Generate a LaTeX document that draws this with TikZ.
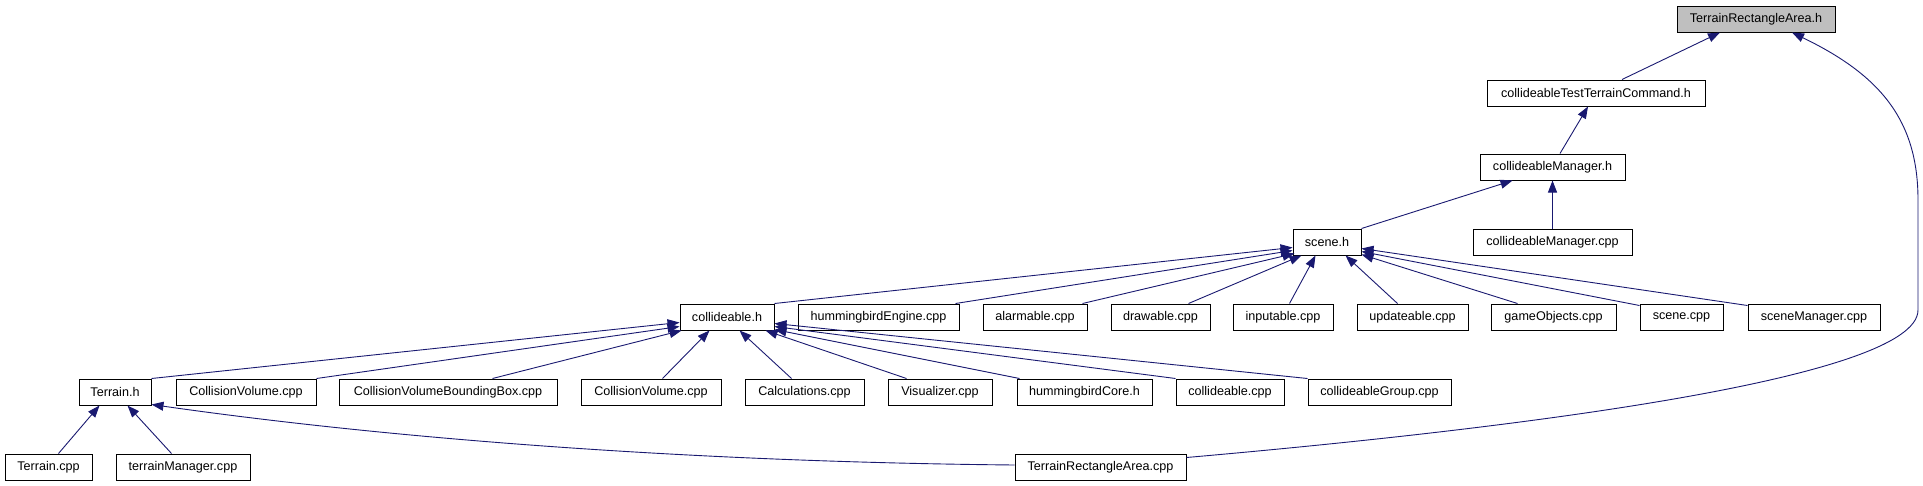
\documentclass[tikz,border=0pt]{standalone}
\usepackage{fontspec}
\setmainfont{Liberation Sans}
\usetikzlibrary{arrows.meta}
\definecolor{edgeblue}{HTML}{191970}
\definecolor{rootgray}{HTML}{BFBFBF}
\tikzset{
  box/.style={draw=black, line width=1pt, fill=white, inner sep=0pt, minimum height=26pt,
    font=\fontsize{12.6}{14}\selectfont, anchor=center},
  rootbox/.style={box, fill=rootgray},
  edge/.style={draw=edgeblue, line width=0.9pt, {Triangle[length=12pt,width=9pt]}-}
}
\begin{document}
\begin{tikzpicture}[x=1pt,y=-1pt]
\useasboundingbox (0,0) rectangle (1923,485);
% row 1-4
\node[rootbox, minimum width=158pt] (TRAh) at (1756,19) {TerrainRectangleArea.h};
\node[box, minimum width=218pt] (cTTC) at (1596,93) {collideableTestTerrainCommand.h};
\node[box, minimum width=145pt] (cMh) at (1552.5,167) {collideableManager.h};
\node[box, minimum width=159pt] (cMcpp) at (1552.5,242) {collideableManager.cpp};
\node[box, minimum width=68pt] (sceneh) at (1327,242) {scene.h};
% row 5
\node[box, minimum width=94pt] (collh) at (727,317) {collideable.h};
\node[box, minimum width=161pt] (hbE) at (878.5,317) {hummingbirdEngine.cpp};
\node[box, minimum width=104pt] (alarm) at (1035,317) {alarmable.cpp};
\node[box, minimum width=99pt] (draw) at (1160.5,317) {drawable.cpp};
\node[box, minimum width=100pt] (input) at (1283,317) {inputable.cpp};
\node[box, minimum width=111pt] (update) at (1412.5,317) {updateable.cpp};
\node[box, minimum width=125pt] (gameO) at (1553.5,317) {gameObjects.cpp};
\node[box, minimum width=83pt] (scenecpp) at (1681.5,317) {scene.cpp};
\node[box, minimum width=132pt] (sceneM) at (1814,317) {sceneManager.cpp};
% row 6
\node[box, minimum width=72pt] (Terrh) at (115,392) {Terrain.h};
\node[box, minimum width=140pt] (CVa) at (246,392) {CollisionVolume.cpp};
\node[box, minimum width=218pt] (CVBB) at (448,392) {CollisionVolumeBoundingBox.cpp};
\node[box, minimum width=140pt] (CVb) at (651,392) {CollisionVolume.cpp};
\node[box, minimum width=119pt] (Calc) at (804.5,392) {Calculations.cpp};
\node[box, minimum width=104pt] (Vis) at (940,392) {Visualizer.cpp};
\node[box, minimum width=135pt] (hbCore) at (1084.5,392) {hummingbirdCore.h};
\node[box, minimum width=108pt] (collcpp) at (1230,392) {collideable.cpp};
\node[box, minimum width=143pt] (collGroup) at (1379.5,392) {collideableGroup.cpp};
% row 7
\node[box, minimum width=87pt] (Tcpp) at (48.5,467) {Terrain.cpp};
\node[box, minimum width=134pt] (tMgr) at (183,467) {terrainManager.cpp};
\node[box, minimum width=171pt] (TRAcpp) at (1100.5,467) {TerrainRectangleArea.cpp};

% edges to TerrainRectangleArea.h
\draw[edge] ([xshift=-36pt]TRAh.south) -- ([xshift=26pt]cTTC.north);
\draw[edge] ([xshift=36pt]TRAh.south) .. controls (1880,75) and (1918,120) .. (1918,200)
  -- (1918,310) .. controls (1918,380) and (1500,430) .. ([yshift=-4pt]TRAcpp.north east);
% to collideableTestTerrainCommand.h
\draw[edge] ([xshift=-8pt]cTTC.south) -- ([xshift=7.5pt]cMh.north);
% to collideableManager.h
\draw[edge] ([xshift=33pt]cMh.south west) -- (sceneh.north east);
\draw[edge] (cMh.south) -- (cMcpp.north);
% to scene.h
\draw[edge] ([yshift=8pt]sceneh.south west) -- (collh.north east);
\draw[edge] ([yshift=5pt]sceneh.south west) -- ([xshift=-4pt]hbE.north east);
\draw[edge] ([xshift=2pt,yshift=2pt]sceneh.south west) -- ([xshift=-5pt]alarm.north east);
\draw[edge] ([xshift=9pt]sceneh.south west) -- ([xshift=-22pt]draw.north east);
\draw[edge] ([xshift=23pt]sceneh.south west) -- ([xshift=57pt]input.north west);
\draw[edge] ([xshift=-16pt]sceneh.south east) -- ([xshift=41pt]update.north west);
\draw[edge] ([yshift=1pt]sceneh.south east) -- ([xshift=27pt]gameO.north west);
\draw[edge] ([yshift=4pt]sceneh.south east) -- ([yshift=-2pt]scenecpp.north west);
\draw[edge] ([yshift=7pt]sceneh.south east) -- ([yshift=-2pt]sceneM.north west);
% to collideable.h
\draw[edge] ([yshift=8pt]collh.south west) -- (Terrh.north east);
\draw[edge] ([yshift=4pt]collh.south west) -- (CVa.north east);
\draw[edge] ([xshift=2pt]collh.south west) -- ([xshift=154pt]CVBB.north west);
\draw[edge] ([xshift=30pt]collh.south west) -- ([xshift=82pt]CVb.north west);
\draw[edge] ([xshift=60pt]collh.south west) -- ([xshift=47pt]Calc.north west);
\draw[edge] ([xshift=-9pt]collh.south east) -- ([xshift=19pt]Vis.north west);
\draw[edge] ([yshift=1pt]collh.south east) -- ([xshift=3pt]hbCore.north west);
\draw[edge] ([yshift=4pt]collh.south east) -- (collcpp.north west);
\draw[edge] ([yshift=7pt]collh.south east) -- (collGroup.north west);
% to Terrain.h
\draw[edge] ([xshift=21pt]Terrh.south west) -- ([xshift=54pt]Tcpp.north west);
\draw[edge] ([xshift=49pt]Terrh.south west) -- ([xshift=56pt]tMgr.north west);
\draw[edge] ([yshift=1pt]Terrh.south east) .. controls (400,440) and (700,462) .. ([yshift=2pt]TRAcpp.west);
\end{tikzpicture}
\end{document}
